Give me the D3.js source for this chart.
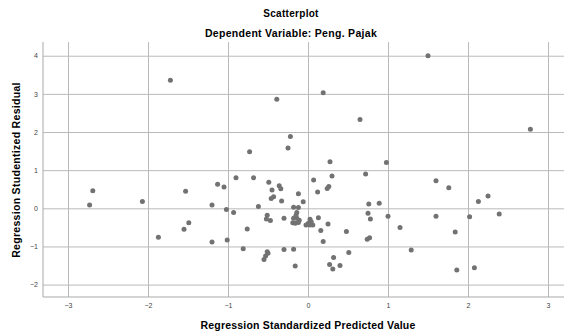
<!DOCTYPE html>
<html>
<head>
<meta charset="utf-8">
<script src="https://cdn.jsdelivr.net/npm/d3@7"></script>
<style>
  body { margin: 0; background: #fff; }
  svg { display: block; font-family: "Liberation Sans", Arial, sans-serif; }
</style>
</head>
<body>
<div id="viz"></div>
<script>
// values
const predicted = [
  -2.69, -2.73, -2.07, -1.87, -1.72, -1.53, -1.49, -1.55, -1.20, -1.20,
  -1.13, -1.05, -1.02, -1.01, -0.93, -0.90, -0.81, -0.76, -0.73, -0.68,
  -0.62, -0.51, -0.52, -0.47, -0.51, -0.50, -0.53, -0.55, -0.49, -0.45,
  -0.43, -0.46, -0.39, -0.36, -0.34, -0.33, -0.30, -0.30, -0.25, -0.22,
  -0.18, -0.12, -0.12, -0.14, -0.18, -0.14, -0.11, -0.19, -0.16, -0.12,
  -0.18, -0.16, -0.06, -0.15, 0.025, 0.04, 0.005, -0.025, 0.025, 0.06,
  0.07, 0.12, 0.13, 0.16, 0.19, 0.19, 0.24, 0.26, 0.25, 0.275,
  0.30, 0.32, 0.27, 0.31, 0.40, 0.48, 0.51, 0.65, 0.72, 0.76,
  0.89, 0.75, 0.78, 0.74, 0.77, 0.98, 1.00, 1.15, 1.29, 1.50,
  1.60, 1.76, 1.60, 1.84, 1.86, 2.02, 2.08, 2.13, 2.25, 2.39,
  2.78
];
const residual = [
  0.46, 0.09, 0.18, -0.76, 3.36, 0.45, -0.38, -0.55, 0.09, -0.88,
  0.63, 0.56, -0.03, -0.83, -0.11, 0.80, -1.06, -0.54, 1.48, 0.80,
  0.05, -0.18, -0.28, -0.32, -1.14, -1.18, -1.25, -1.34, 0.68, 0.48,
  0.30, 0.26, 2.86, 0.59, 0.51, 0.19, -0.26, -1.08, 1.58, 1.88,
  0.03, 0.02, 0.38, -0.11, -0.26, -0.26, -0.31, -0.38, -0.39, -0.37,
  -1.07, -1.51, 0.17, -0.18, -0.29, -0.35, -0.39, -0.44, -0.44, -0.44,
  0.74, 0.43, -0.25, -0.58, -0.87, 3.03, 0.52, 0.57, -0.41, 1.22,
  0.85, -1.29, -1.47, -1.59, -1.50, -0.61, -1.16, 2.33, 0.90, 0.11,
  0.13, -0.13, -0.28, -0.81, -0.77, 1.20, -0.21, -0.50, -1.09, 4.00,
  0.72, 0.54, -0.21, -0.62, -1.62, -0.22, -1.56, 0.18, 0.32, -0.15,
  2.07
];
const xTicks = [-3, -2, -1, 0, 1, 2, 3];
const yTicks = [-2, -1, 0, 1, 2, 3, 4];
const title = 'Scatterplot';
const subtitle = 'Dependent Variable: Peng. Pajak';
const xTitle = 'Regression Standardized Predicted Value';
const yTitle = 'Regression Studentized Residual';

const width = 564;
const height = 333;
const plot = { left: 43, right: 564, top: 42, bottom: 297 };

const svg = d3.select('#viz').append('svg')
  .attr('width', width)
  .attr('height', height);

const x = d3.scaleLinear()
  .domain([-3.3125, 3.2])
  .range([plot.left, plot.right]);
const y = d3.scaleLinear()
  .domain([-2.325, 4.36])
  .range([plot.bottom, plot.top]);

// grid + labels via axes
const gx = svg.append('g')
  .attr('transform', `translate(0,${plot.bottom})`)
  .call(d3.axisBottom(x).tickValues(xTicks).tickFormat(d3.format('d'))
    .tickSize(-(plot.bottom - plot.top)).tickPadding(6));
const gy = svg.append('g')
  .attr('transform', `translate(${plot.left},0)`)
  .call(d3.axisLeft(y).tickValues(yTicks).tickFormat(d3.format('d'))
    .tickSize(-(plot.right - plot.left)).tickPadding(5));

for (const g of [gx, gy]) {
  g.select('.domain').remove();
  g.selectAll('.tick line').attr('stroke', '#bababa');
  g.selectAll('.tick text')
    .attr('fill', '#444')
    .style('font-size', '7px')
    .style('font-family', '"Liberation Sans", Arial, sans-serif');
}

// axis frame lines
svg.append('line')
  .attr('x1', plot.left).attr('x2', plot.left)
  .attr('y1', plot.top).attr('y2', plot.bottom)
  .attr('stroke', '#a9a9a9');
svg.append('line')
  .attr('x1', plot.left).attr('x2', plot.right)
  .attr('y1', plot.bottom).attr('y2', plot.bottom)
  .attr('stroke', '#a9a9a9');

svg.append('g')
  .selectAll('circle')
  .data(predicted.map((p, i) => [p, residual[i]]))
  .join('circle')
  .attr('cx', d => x(d[0]))
  .attr('cy', d => y(d[1]))
  .attr('r', 2.5)
  .attr('fill', '#727272');

svg.append('text')
  .attr('x', 291).attr('y', 17)
  .attr('text-anchor', 'middle')
  .style('font-size', '10px').style('font-weight', 'bold')
  .style('letter-spacing', '0.3px')
  .text(title);
svg.append('text')
  .attr('x', 291).attr('y', 37)
  .attr('text-anchor', 'middle')
  .style('font-size', '10.5px').style('font-weight', 'bold')
  .style('letter-spacing', '0.3px')
  .text(subtitle);
svg.append('text')
  .attr('x', 308).attr('y', 329)
  .attr('text-anchor', 'middle')
  .style('font-size', '10.5px').style('font-weight', 'bold')
  .style('letter-spacing', '0.2px')
  .text(xTitle);
svg.append('text')
  .attr('transform', 'translate(20,170) rotate(-90)')
  .attr('text-anchor', 'middle')
  .style('font-size', '10.5px').style('font-weight', 'bold')
  .style('letter-spacing', '0.3px')
  .text(yTitle);
</script>
</body>
</html>
